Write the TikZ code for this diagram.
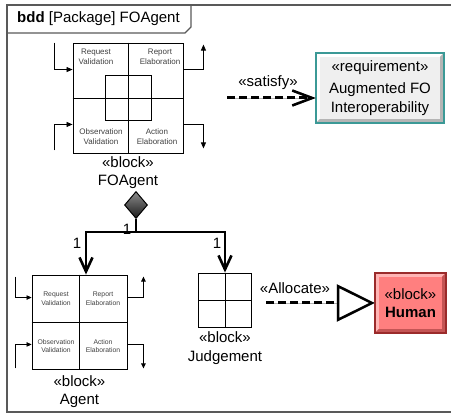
\documentclass[tikz,border=0pt]{standalone}
\usepackage{fontspec}
\setmainfont{Liberation Sans}
\usepackage{tikz}
\usetikzlibrary{positioning,arrows.meta,shapes.geometric}

\definecolor{reqborder}{HTML}{3B9996}
\definecolor{reqfill}{HTML}{EFEFEF}
\definecolor{reqdark}{HTML}{B5B5B5}
\definecolor{humanfill}{HTML}{FF7F7F}
\definecolor{humanlight}{HTML}{FFB5B5}
\definecolor{humandark}{HTML}{C45555}
\definecolor{humanborder}{HTML}{9B2B2B}

% bordo in rilievo per i box colorati
\newcommand{\bevelbox}[4]{%
  \fill[#2] (#1.north west) -- (#1.north east) -- ([shift={(-4,4)}]#1.north east)
    -- ([shift={(4,4)}]#1.north west) -- ([shift={(4,-4)}]#1.south west) -- (#1.south west) -- cycle;
  \fill[#3] (#1.south east) -- (#1.south west) -- ([shift={(4,-4)}]#1.south west)
    -- ([shift={(-4,-4)}]#1.south east) -- ([shift={(-4,4)}]#1.north east) -- (#1.north east) -- cycle;
  \draw[#4, line width=1.5pt] (#1.north west) rectangle (#1.south east);
}

\tikzset{
  bddframe/.style={draw=black!65, line width=1.2pt},
  lbl/.style={font=\fontsize{15}{18.5}\selectfont, inner sep=0pt, align=center},
  blk/.style={draw, line width=0.9pt, inner sep=0pt},
  qlabel/.style={font=\fontsize{8}{10}\selectfont, inner sep=0pt, align=center, text=black!75},
  qlabelsm/.style={font=\fontsize{6.8}{8.4}\selectfont, inner sep=0pt, align=center, text=black!75},
  port/.style={line width=0.8pt, -{Triangle[length=6pt,width=5pt]}},
  portsm/.style={line width=0.7pt, -{Triangle[length=5pt,width=4.5pt]}},
  comp/.style={line width=2.6pt, -{Straight Barb[length=14pt,width=13pt]}},
  dashlink/.style={line width=3pt, dash pattern=on 8pt off 4pt, preaction={draw=black!30, solid}}
}

\begin{document}
\begin{tikzpicture}[x=1pt,y=-1pt]
  \useasboundingbox (0,0) rectangle (451,414);

  % Cornice del diagramma
  \draw[bddframe] (451,5) -- (7,5) -- (7,412) -- (451,412);
  \draw[bddframe] (7,33) -- (185,33) -- (191,27) -- (191,5);
  \node[lbl, anchor=west] (title) at (17,19) {\textbf{bdd} [Package] FOAgent};

  % Blocco FOAgent
  \node[blk, minimum size=110pt] (foagent) at (128,98) {};
  \draw[line width=0.9pt] (foagent.north) -- (foagent.south);
  \draw[line width=0.9pt] (foagent.west) -- (foagent.east);
  \node[blk, minimum width=46pt, minimum height=45pt] (focore) at (foagent.center) {};
  \node[qlabel] (fo-rv) at (96,57) {Request\\Validation};
  \node[qlabel] (fo-re) at (160,57) {Report\\Elaboration};
  \node[qlabel] (fo-ov) at (101,137) {Observation\\Validation};
  \node[qlabel] (fo-ae) at (157,137) {Action\\Elaboration};
  \draw[port] ([shift={(-18,0)}]foagent.north west) |- ([shift={(0,27)}]foagent.north west);
  \draw[port] ([shift={(-18,-3)}]foagent.south west) |- ([shift={(0,-29)}]foagent.south west);
  \draw[port] ([shift={(0,27)}]foagent.north east) -| ([shift={(20,2)}]foagent.north east);
  \draw[port] ([shift={(0,-29)}]foagent.south east) -| ([shift={(20,-5)}]foagent.south east);
  \node[lbl] (fo-name) at (128,172.5) {«block»\\FOAgent};

  % Requisito
  \node[lbl, minimum width=128pt, minimum height=70pt, fill=reqfill] (req) at (380,88)
    {«requirement»\\[4pt]Augmented FO\\Interoperability};
  \bevelbox{req}{white}{reqdark}{reqborder}
  \coordinate (satstart) at (227,98);
  \draw[dashlink, -{Straight Barb[length=20pt,width=15pt,line width=2.5pt]}] (satstart) -- (satstart -| req.west);
  \node[lbl] (satlbl) at (268,83) {«satisfy»};

  % Blocco Agent
  \node[blk, minimum width=95pt, minimum height=94pt] (agent) at (79.5,322) {};
  \draw[line width=0.9pt] (agent.north) -- (agent.south);
  \draw[line width=0.9pt] (agent.west) -- (agent.east);
  \node[qlabelsm] (ag-rv) at (56,298.5) {Request\\Validation};
  \node[qlabelsm] (ag-re) at (103,298.5) {Report\\Elaboration};
  \node[qlabelsm] (ag-ov) at (56,346) {Observation\\Validation};
  \node[qlabelsm] (ag-ae) at (103,346) {Action\\Elaboration};
  \draw[portsm] ([shift={(-16,2)}]agent.north west) |- ([shift={(0,23)}]agent.north west);
  \draw[portsm] ([shift={(-16,-1)}]agent.south west) |- ([shift={(0,-25)}]agent.south west);
  \draw[portsm] ([shift={(0,23)}]agent.north east) -| ([shift={(16,2)}]agent.north east);
  \draw[portsm] ([shift={(0,-25)}]agent.south east) -| ([shift={(16,-1)}]agent.south east);
  \node[lbl] (ag-name) at (79.5,391.5) {«block»\\Agent};

  % Blocco Judgement
  \node[blk, minimum width=53pt, minimum height=54pt] (judgement) at (225,300) {};
  \draw[line width=0.9pt] (judgement.north) -- (judgement.south);
  \draw[line width=0.9pt] (judgement.west) -- (judgement.east);
  \node[lbl] (ju-name) at (225,348) {«block»\\Judgement};

  % Composizione
  \node[diamond, draw, line width=1pt, minimum width=23pt, minimum height=27pt, inner sep=0pt,
        top color=black!45, bottom color=black!90] (dia) at (136,205) {};
  \coordinate (fork) at (136,232);
  \draw[comp] (dia.south) -- (fork) -| ([shift={(6.5,0)}]agent.north);
  \draw[comp] (dia.south) -- (fork) -| (judgement.north);
  \node[lbl] (m-agent) at (77,243) {1};
  \node[lbl] (m-fo) at (127,229) {1};
  \node[lbl] (m-judge) at (217,243) {1};

  % Allocazione
  \node[lbl, minimum width=71pt, minimum height=60pt, fill=humanfill] (human) at (410.5,303)
    {«block»\\[-1pt]\textbf{Human}};
  \bevelbox{human}{humanlight}{humandark}{humanborder}
  \coordinate (allocstart) at (266,303);
  \draw[dashlink, -{Triangle[length=38pt,width=37pt,fill=white,line width=2.5pt]}] (allocstart) -- (human.west);
  \node[lbl] (alloclbl) at (295,288) {«Allocate»};
\end{tikzpicture}
\end{document}
